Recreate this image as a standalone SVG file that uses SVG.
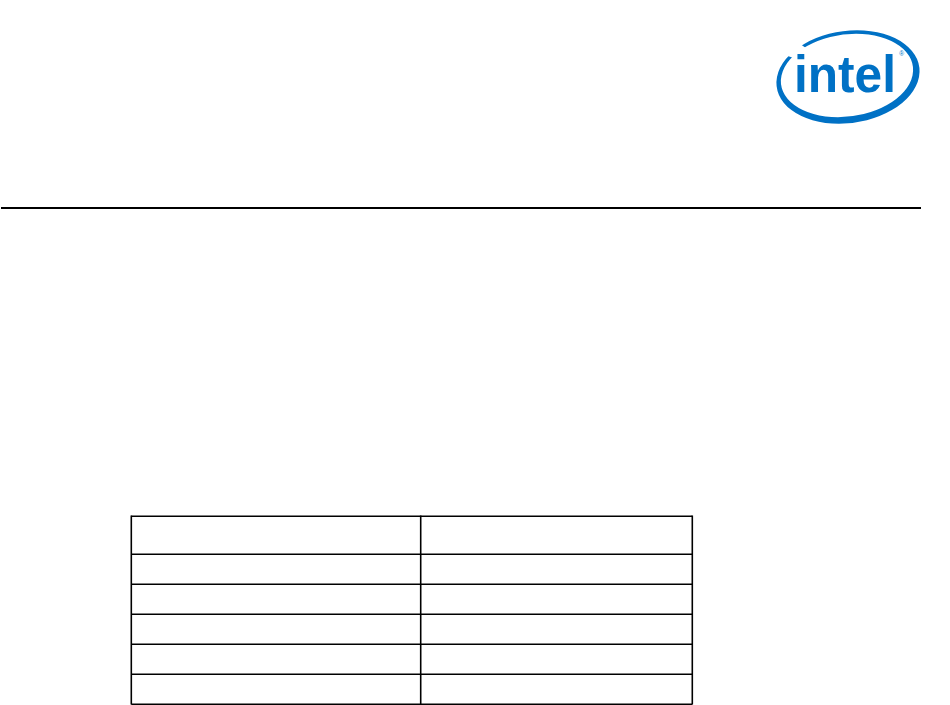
<svg xmlns="http://www.w3.org/2000/svg" width="950" height="705" viewBox="0 0 950 705">
  <style>
    .rule { stroke: #000; stroke-width: 2.2; }
    .grid line { stroke: #000; stroke-width: 1.6; }
    .logo { fill: #0071C5; }
  </style>
  <defs>
    <clipPath id="gap">
      <polygon points="848,77 668,-47 1000,-47 1000,200 600,200 608,-7"/>
    </clipPath>
  </defs>
  <rect width="950" height="705" fill="#fff"/>
  <g id="logo">
    <path class="logo" clip-path="url(#gap)" fill-rule="evenodd"
      d="M 777,77 A 71,45.5 -8 1 0 919,77 A 71,45.5 -8 1 0 777,77 Z M 781.5,75.5 A 65.5,40.5 -8 1 0 912.5,75.5 A 65.5,40.5 -8 1 0 781.5,75.5 Z"/>
    <text class="logo" x="794" y="91.5" font-family="Liberation Sans, Arial, sans-serif" font-weight="bold" font-size="52" textLength="102" lengthAdjust="spacingAndGlyphs">intel</text>
    <text class="logo" x="899.2" y="56" font-family="Liberation Sans, Arial, sans-serif" font-size="6.5">®</text>
  </g>
  <g id="header-rule">
    <line class="rule" x1="1" y1="208" x2="921" y2="208"/>
  </g>
  <g id="table" class="grid">
    <line x1="131.3" y1="516.3" x2="692.3" y2="516.3"/>
    <line x1="131.3" y1="554.3" x2="692.3" y2="554.3"/>
    <line x1="131.3" y1="584.3" x2="692.3" y2="584.3"/>
    <line x1="131.3" y1="614.3" x2="692.3" y2="614.3"/>
    <line x1="131.3" y1="644.3" x2="692.3" y2="644.3"/>
    <line x1="131.3" y1="674.3" x2="692.3" y2="674.3"/>
    <line x1="131.3" y1="704.2" x2="692.3" y2="704.2"/>
    <line x1="131.3" y1="515.5" x2="131.3" y2="704.5"/>
    <line x1="420.7" y1="515.5" x2="420.7" y2="704.5"/>
    <line x1="692.3" y1="515.5" x2="692.3" y2="704.5"/>
  </g>
</svg>
